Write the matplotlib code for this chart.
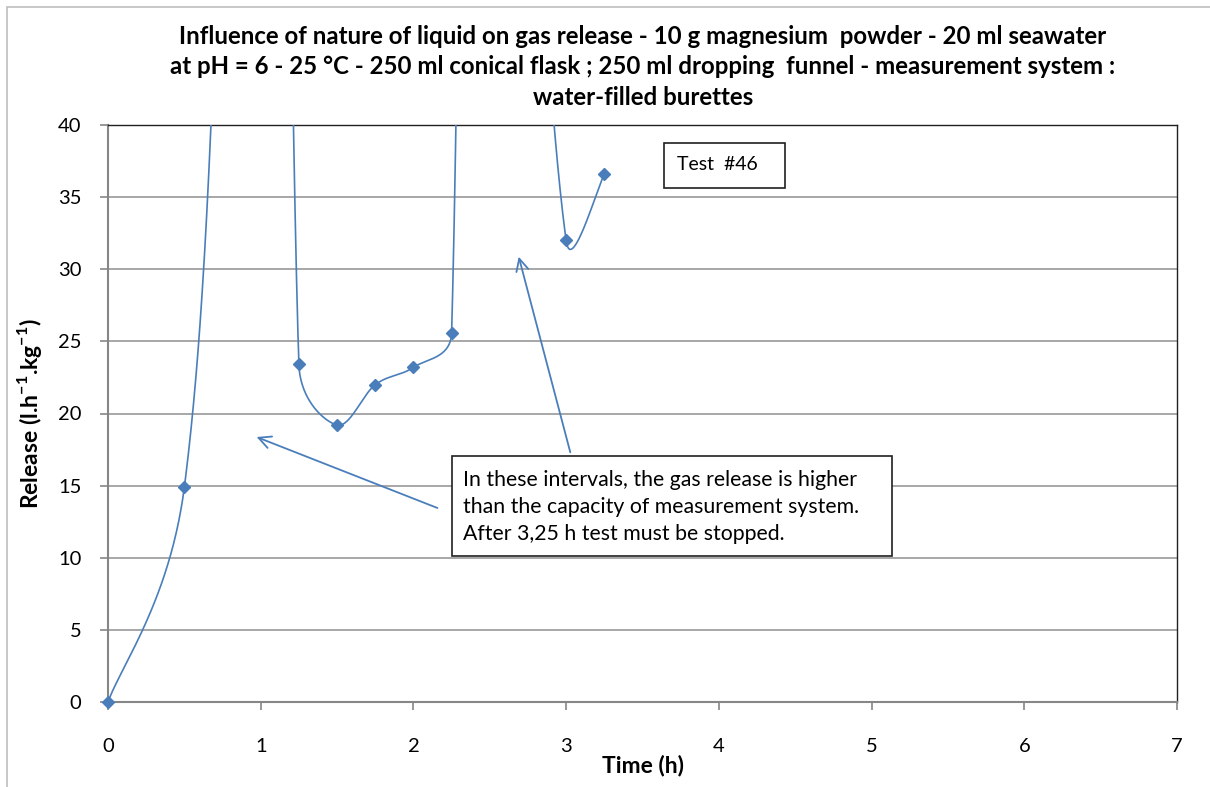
import numpy as np
import matplotlib
matplotlib.use("Agg")
import matplotlib.pyplot as plt
from matplotlib.patches import Rectangle

plt.rcParams['font.family'] = ['Lato', 'DejaVu Sans']
plt.rcParams['mathtext.fontset'] = 'custom'
plt.rcParams['mathtext.rm'] = 'Lato'
plt.rcParams['mathtext.bf'] = 'Lato:bold'

# data (points above 40 are off the visible scale, estimated from the curve shape)
time_h = [0, 0.5, 0.75, 1.0, 1.25, 1.5, 1.75, 2.0, 2.25, 2.5, 2.75, 3.0, 3.25]
release = [0, 14.9, 62, 178, 23.4, 19.2, 22.0, 23.2, 25.6, 208, 75, 32.0, 36.6]

x_ticks = [0, 1, 2, 3, 4, 5, 6, 7]
y_ticks = [0, 5, 10, 15, 20, 25, 30, 35, 40]

title = ("Influence of nature of liquid on gas release - 10 g magnesium  powder - 20 ml seawater\n"
         "at pH = 6 - 25 °C - 250 ml conical flask ; 250 ml dropping  funnel - measurement system :\n"
         "water-filled burettes")
note = ("In these intervals, the gas release is higher\n"
        "than the capacity of measurement system.\n"
        "After 3,25 h test must be stopped.")

blue = '#4A7EBB'

W, H = 1210, 787
fig = plt.figure(figsize=(W / 100, H / 100), dpi=100)
ax = fig.add_axes([108 / W, 1 - 702 / H, (1177 - 108) / W, (702 - 125) / H])

sx = 1069 / 7.0   # pixel per hour
sy = 577 / 40.0   # pixel per unit


def excel_smooth(xs, ys, n=80):
    # bezier smoothing like the spreadsheet "smoothed line", done in pixel space
    P = np.column_stack([np.asarray(xs, float) * sx, np.asarray(ys, float) * sy])
    m = len(P)
    out = [P[0]]
    for i in range(m - 1):
        p0 = P[i - 1] if i > 0 else P[i]
        p1 = P[i]
        p2 = P[i + 1]
        p3 = P[i + 2] if i + 2 < m else P[i + 1]
        d02 = np.hypot(*(p2 - p0))
        d12 = np.hypot(*(p2 - p1))
        d13 = np.hypot(*(p3 - p1))
        f0 = f3 = 1 / 6
        if d02 > 0 and d02 / 6 >= d12 / 2:
            f0 = d12 / d02 / 2
        if d13 > 0 and d13 / 6 >= d12 / 2:
            f3 = d12 / d13 / 2
        b1 = p1 + (p2 - p0) * f0
        b2 = p2 - (p3 - p1) * f3
        t = np.linspace(0, 1, n)[1:, None]
        seg = (1 - t) ** 3 * p1 + 3 * t * (1 - t) ** 2 * b1 + 3 * t ** 2 * (1 - t) * b2 + t ** 3 * p2
        out.extend(seg)
    out = np.array(out)
    return out[:, 0] / sx, out[:, 1] / sy


cx, cy = excel_smooth(time_h, release)
ax.plot(cx, cy, color=blue, lw=1.2, zorder=3)
vis = np.array(release) <= 40
ax.plot(np.array(time_h)[vis], np.array(release)[vis], ls='none', marker='D', ms=6,
        color='#4A7EBB', zorder=4, clip_on=False)

ax.set_xlim(0, 7)
ax.set_ylim(0, 40)
ax.set_xticks(x_ticks)
ax.set_yticks(y_ticks)
ax.tick_params(axis='both', labelsize=14.5, direction='out', length=6, color='#868686', width=1.2)
ax.tick_params(axis='x', pad=20)
ax.tick_params(axis='y', pad=13)
ax.yaxis.grid(True, color='#A0A0A0', lw=1.3)
ax.set_axisbelow(True)
for s in ['left', 'bottom']:
    ax.spines[s].set_color('#868686')
    ax.spines[s].set_linewidth(1.5)
for s in ['top', 'right']:
    ax.spines[s].set_color('#202020')
    ax.spines[s].set_linewidth(1.0)

ax.set_xlabel('Time (h)', fontsize=16.5, fontweight='bold', labelpad=0)
ax.set_ylabel(r'Release (l.h$^{\mathbf{-1}}$.kg$^{\mathbf{-1}}$)', fontsize=16.5, fontweight='bold', labelpad=10)

fig.text(643 / W, 1 - 67 / H, title, ha='center', va='center', fontsize=17.3,
         fontweight='bold', linespacing=1.4)

# text boxes
ax.add_patch(Rectangle((664 / W, 1 - 188 / H), (785 - 664) / W, (188 - 143) / H,
                       transform=fig.transFigure, fill=True, fc='white', ec='#202020', lw=1.2, zorder=5))
fig.text(677 / W, 1 - 165 / H, 'Test  #46', ha='left', va='center', fontsize=14, zorder=6)

ax.add_patch(Rectangle((452 / W, 1 - 556 / H), (892 - 452) / W, (556 - 456) / H,
                       transform=fig.transFigure, fill=True, fc='white', ec='#202020', lw=1.2, zorder=5))
fig.text(463 / W, 1 - 507 / H, note, ha='left', va='center', fontsize=15.3, linespacing=1.45, zorder=6)

# arrows
arrow_kw = dict(arrowstyle='->', color=blue, lw=1.3, mutation_scale=22)
ax.annotate('', xy=((254 - 108) / sx, (702 - 436) / sy), xytext=((440 - 108) / sx, (702 - 509) / sy),
            arrowprops=arrow_kw, zorder=4)
ax.annotate('', xy=((518 - 108) / sx, (702 - 254) / sy), xytext=((571 - 108) / sx, (702 - 455) / sy),
            arrowprops=arrow_kw, zorder=4)

# chart area frame
fig.patches.append(Rectangle((7 / W, -0.1), 1.2, 1 - 7 / H + 0.1, transform=fig.transFigure,
                             fill=False, ec='#BDBDBD', lw=1.2))

fig.savefig('out.png', dpi=100)
